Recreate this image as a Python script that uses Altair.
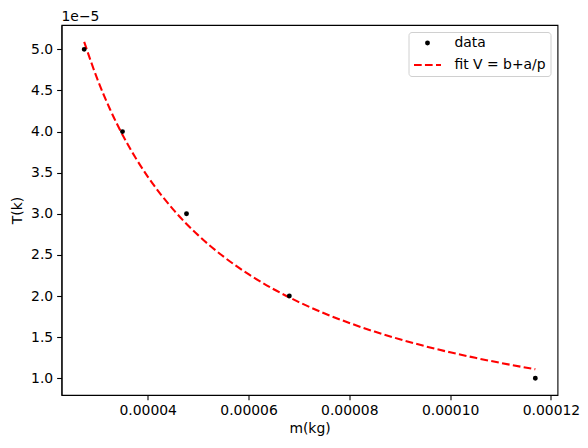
import altair as alt
import pandas as pd

# measured data points
m_data = [2.74e-5, 3.50e-5, 4.77e-5, 6.81e-5, 1.169e-4]
T_data = [5.0e-5, 4.0e-5, 3.0e-5, 2.0e-5, 1.0e-5]

# dashed fit curve
m_fit = [2.74e-5, 3.0e-5, 3.25e-5, 3.5e-5, 3.75e-5, 4.0e-5, 4.5e-5, 5.0e-5, 5.5e-5,
         6.0e-5, 6.5e-5, 7.0e-5, 7.5e-5, 8.0e-5, 8.5e-5, 9.0e-5, 9.5e-5, 1.0e-4,
         1.05e-4, 1.1e-4, 1.169e-4]
T_fit = [5.091e-5, 4.640e-5, 4.275e-5, 3.962e-5, 3.690e-5, 3.453e-5, 3.057e-5, 2.741e-5,
         2.482e-5, 2.266e-5, 2.083e-5, 1.927e-5, 1.791e-5, 1.673e-5, 1.568e-5, 1.475e-5,
         1.391e-5, 1.316e-5, 1.249e-5, 1.187e-5, 1.110e-5]

series_names = ["data", "fit V = b+a/p"]
x_ticks = [0.00004, 0.00006, 0.00008, 0.00010, 0.00012]
y_ticks = [1.0e-5, 1.5e-5, 2.0e-5, 2.5e-5, 3.0e-5, 3.5e-5, 4.0e-5, 4.5e-5, 5.0e-5]

df_pts = pd.DataFrame({"m": m_data, "T": T_data, "series": series_names[0]})
df_fit = pd.DataFrame({"m": m_fit, "T": T_fit, "series": series_names[1]})

FONT = "DejaVu Sans"
FS = 13.9
dash_path = "M-1,0L-0.43,0M-0.19,0L0.38,0M0.63,0L1,0"

xenc = alt.X("m:Q", title="m(kg)",
             scale=alt.Scale(domain=[0.0000229, 0.0001213], nice=False, zero=False),
             axis=alt.Axis(values=x_ticks, format=".5f", titlePadding=4))
yenc = alt.Y("T:Q", title="T(k)",
             scale=alt.Scale(domain=[0.797e-5, 5.296e-5], nice=False, zero=False),
             axis=alt.Axis(values=y_ticks, labelExpr="format(datum.value*1e5, '.1f')",
                           titlePadding=6))

col_scale = alt.Scale(domain=series_names, range=["black", "red"])

line = alt.Chart(df_fit).mark_line(strokeWidth=2.08, strokeDash=[7.7, 3.3],
                                   interpolate="monotone", color="red").encode(
    x=xenc, y=yenc,
)

legend = alt.Legend(title=None, orient="top-right", offset=7,
                    labelFont=FONT, labelFontSize=FS, labelColor="black",
                    fillColor="white", strokeColor="#d0d0d0", cornerRadius=3,
                    padding=4, rowPadding=-2.7, labelOffset=12,
                    symbolStrokeWidth=2.08)

pts = alt.Chart(df_pts).mark_point(opacity=1, strokeWidth=2.08).encode(
    x=xenc, y=yenc,
    fill=alt.Fill("series:N", scale=col_scale, legend=legend),
    stroke=alt.Stroke("series:N", scale=col_scale, legend=legend),
    shape=alt.Shape("series:N", scale=alt.Scale(domain=series_names, range=["circle", dash_path]), legend=legend),
    size=alt.Size("series:N", scale=alt.Scale(domain=series_names, range=[8, 729]), legend=legend),
)

chart = alt.layer(line, pts).properties(
    width=496, height=370,
    autosize=alt.AutoSizeParams(type="none"),
    padding={"left": 53.5, "top": 17, "right": 22.5, "bottom": 45},
    title=alt.TitleParams("1e\u22125", anchor="start", frame="group", font=FONT, fontSize=FS,
                          fontWeight="normal", color="black", offset=1),
).configure_view(stroke="black", strokeWidth=1.1).configure_axis(
    grid=False, domainColor="black", domainWidth=1.1, tickColor="black", tickWidth=1.1,
    tickSize=4.86, labelPadding=4.0, labelFont=FONT, labelFontSize=FS, labelColor="black",
    titleFont=FONT, titleFontSize=FS, titleFontWeight="normal", titleColor="black",
)

chart.save("out.html", embed_options={"renderer": "svg", "actions": False})
